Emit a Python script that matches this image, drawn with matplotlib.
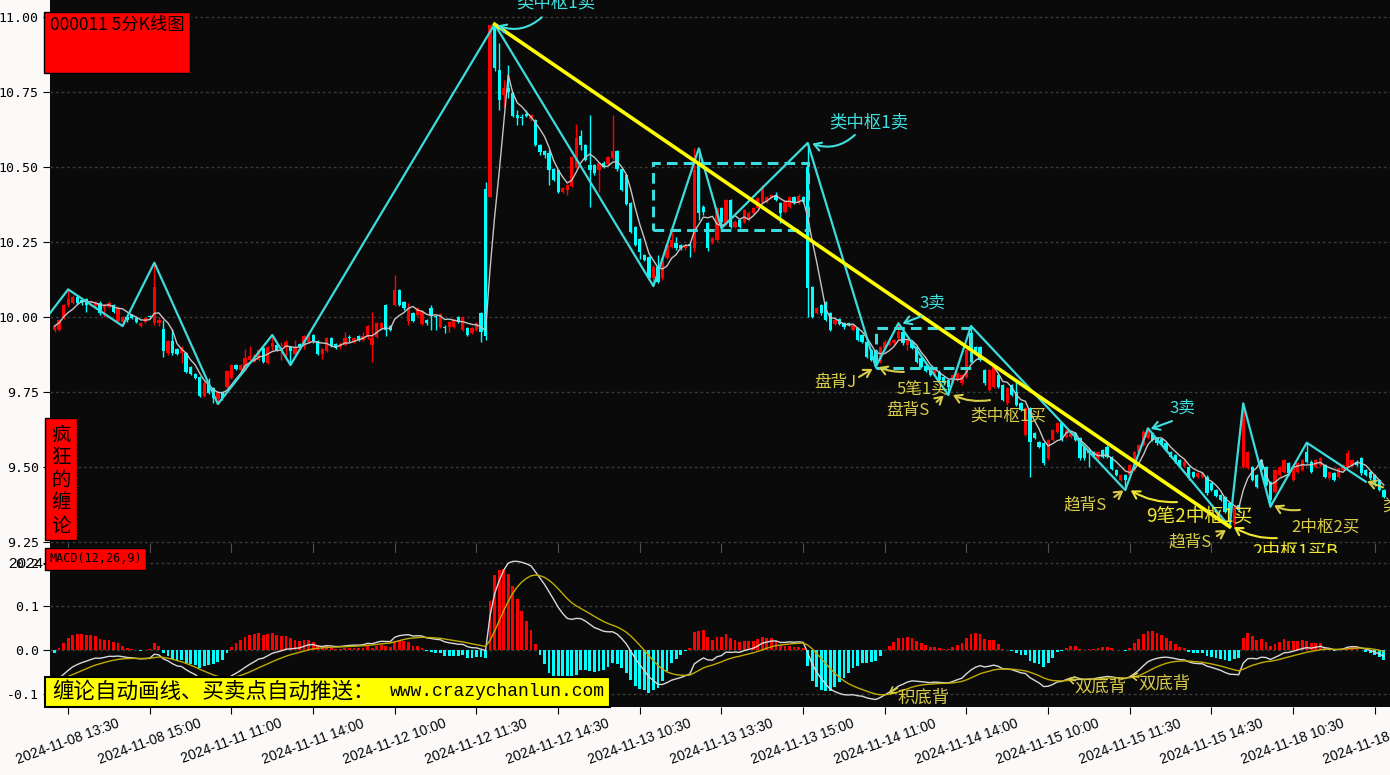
import numpy as np
import matplotlib
matplotlib.use('Agg')
import matplotlib.pyplot as plt
from matplotlib.patches import Rectangle

plt.rcParams['font.family'] = ['DejaVu Sans']
CJK = ['Noto Sans CJK SC', 'DejaVu Sans']

# ---------------- data ----------------
title_text = '000011 5分K线图'
side_text = '疯狂的缠论'
macd_title = 'MACD(12,26,9)'
watermark_cn = '缠论自动画线、买卖点自动推送：'
watermark_url = 'www.crazychanlun.com'

tick_bars = [3, 21, 39, 57, 75, 93, 111, 129, 147, 165, 183, 201, 219, 237, 255, 273, 291]
tick_labels = ['2024-11-08 13:30', '2024-11-08 15:00', '2024-11-11 11:00', '2024-11-11 14:00',
               '2024-11-12 10:00', '2024-11-12 11:30', '2024-11-12 14:30', '2024-11-13 10:30',
               '2024-11-13 13:30', '2024-11-13 15:00', '2024-11-14 11:00', '2024-11-14 14:00',
               '2024-11-15 10:00', '2024-11-15 11:30', '2024-11-15 14:30', '2024-11-18 10:30',
               '2024-11-18 13:30']
price_ticks = [9.25, 9.50, 9.75, 10.00, 10.25, 10.50, 10.75, 11.00]
macd_ticks = [-0.1, 0.0, 0.1, 0.2]

opens = [9.957, 9.957, 10.001, 10.040, 10.048, 10.068, 10.057, 10.060, 10.050, 10.037,
         10.048, 10.029, 10.034, 10.040, 9.988, 9.984, 10.001, 10.007, 9.996, 9.970,
         9.984, 10.002, 9.979, 9.979, 9.960, 9.879, 9.921, 9.892, 9.881, 9.881,
         9.832, 9.810, 9.801, 9.738, 9.779, 9.762, 9.726, 9.751, 9.766, 9.796,
         9.840, 9.823, 9.823, 9.857, 9.854, 9.857, 9.896, 9.848, 9.899, 9.907,
         9.890, 9.901, 9.899, 9.877, 9.910, 9.899, 9.918, 9.940, 9.921, 9.877,
         9.888, 9.929, 9.910, 9.899, 9.907, 9.931, 9.918, 9.937, 9.923, 9.932,
         9.907, 9.934, 9.962, 10.040, 9.970, 10.040, 10.090, 10.051, 9.988, 10.012,
         10.007, 9.977, 9.990, 10.029, 10.002, 9.968, 9.965, 9.968, 9.968, 10.001,
         9.957, 9.962, 9.946, 9.957, 10.012, 10.428, 10.401, 10.973, 10.823, 10.740,
         10.762, 10.746, 10.673, 10.666, 10.675, 10.659, 10.657, 10.573, 10.554, 10.546,
         10.492, 10.490, 10.418, 10.423, 10.437, 10.501, 10.603, 10.573, 10.507, 10.507,
         10.490, 10.512, 10.510, 10.529, 10.554, 10.492, 10.473, 10.379, 10.301, 10.259,
         10.207, 10.201, 10.129, 10.168, 10.129, 10.196, 10.234, 10.246, 10.240, 10.229,
         10.241, 10.230, 10.518, 10.368, 10.312, 10.246, 10.257, 10.362, 10.312, 10.390,
         10.301, 10.323, 10.318, 10.323, 10.346, 10.362, 10.385, 10.385, 10.396, 10.407,
         10.379, 10.351, 10.368, 10.399, 10.381, 10.399, 10.501, 10.101, 10.014, 10.040,
         10.051, 10.012, 9.977, 9.992, 9.979, 9.978, 9.957, 9.962, 9.940, 9.918,
         9.890, 9.890, 9.851, 9.896, 9.907, 9.912, 9.929, 9.951, 9.907, 9.918,
         9.901, 9.862, 9.837, 9.834, 9.807, 9.818, 9.801, 9.790, 9.785, 9.790,
         9.779, 9.801, 9.946, 9.901, 9.901, 9.823, 9.757, 9.768, 9.807, 9.773,
         9.712, 9.773, 9.751, 9.712, 9.607, 9.696, 9.612, 9.584, 9.579, 9.529,
         9.590, 9.618, 9.646, 9.601, 9.601, 9.612, 9.596, 9.568, 9.557, 9.551,
         9.529, 9.557, 9.568, 9.532, 9.490, 9.457, 9.473, 9.473, 9.490, 9.551,
         9.573, 9.596, 9.612, 9.596, 9.592, 9.579, 9.551, 9.540, 9.523, 9.503,
         9.501, 9.484, 9.468, 9.466, 9.468, 9.446, 9.423, 9.407, 9.401, 9.379,
         9.312, 9.373, 9.501, 9.496, 9.501, 9.473, 9.523, 9.501, 9.451, 9.418,
         9.473, 9.484, 9.512, 9.457, 9.484, 9.490, 9.551, 9.518, 9.501, 9.507,
         9.507, 9.462, 9.479, 9.468, 9.490, 9.501, 9.507, 9.518, 9.529, 9.490,
         9.484, 9.473, 9.457, 9.423]
highs = [9.975, 9.995, 10.045, 10.092, 10.072, 10.072, 10.062, 10.064, 10.058, 10.055,
         10.052, 10.044, 10.053, 10.044, 10.033, 10.005, 10.004, 10.010, 10.000, 9.985,
         10.000, 10.007, 10.181, 10.000, 9.990, 9.925, 9.960, 9.896, 9.905, 9.885,
         9.836, 9.814, 9.805, 9.785, 9.796, 9.766, 9.755, 9.755, 9.825, 9.845,
         9.844, 9.844, 9.892, 9.905, 9.877, 9.894, 9.900, 9.903, 9.940, 9.912,
         9.918, 9.923, 9.903, 9.923, 9.914, 9.940, 9.947, 9.944, 9.925, 9.896,
         9.933, 9.933, 9.914, 9.918, 9.951, 9.940, 9.933, 9.940, 9.951, 9.974,
         10.018, 9.985, 9.985, 10.044, 9.975, 10.140, 10.094, 10.055, 10.046, 10.016,
         10.033, 10.025, 9.994, 10.040, 10.006, 10.014, 9.974, 9.988, 9.994, 10.005,
         10.005, 9.966, 9.966, 9.985, 10.016, 10.450, 10.975, 10.976, 10.912, 10.790,
         10.840, 10.750, 10.690, 10.678, 10.690, 10.677, 10.661, 10.577, 10.558, 10.557,
         10.496, 10.494, 10.433, 10.444, 10.538, 10.645, 10.623, 10.577, 10.673, 10.511,
         10.516, 10.520, 10.538, 10.673, 10.558, 10.496, 10.477, 10.383, 10.305, 10.263,
         10.211, 10.205, 10.172, 10.207, 10.200, 10.244, 10.284, 10.268, 10.244, 10.244,
         10.245, 10.562, 10.562, 10.372, 10.316, 10.266, 10.366, 10.366, 10.394, 10.394,
         10.322, 10.327, 10.361, 10.352, 10.366, 10.400, 10.440, 10.403, 10.411, 10.418,
         10.383, 10.389, 10.405, 10.403, 10.411, 10.403, 10.580, 10.105, 10.033, 10.044,
         10.055, 10.016, 9.994, 9.996, 9.983, 9.985, 9.977, 9.966, 9.944, 9.922,
         9.894, 9.894, 9.905, 9.922, 9.922, 9.927, 9.979, 9.955, 9.927, 9.922,
         9.905, 9.866, 9.841, 9.838, 9.827, 9.822, 9.805, 9.794, 9.811, 9.816,
         9.811, 9.894, 9.970, 9.905, 9.905, 9.827, 9.827, 9.838, 9.811, 9.777,
         9.766, 9.777, 9.790, 9.716, 9.700, 9.700, 9.616, 9.588, 9.583, 9.594,
         9.627, 9.650, 9.650, 9.627, 9.622, 9.616, 9.600, 9.572, 9.561, 9.555,
         9.555, 9.561, 9.572, 9.536, 9.494, 9.477, 9.477, 9.511, 9.555, 9.577,
         9.622, 9.629, 9.616, 9.600, 9.596, 9.583, 9.555, 9.544, 9.527, 9.522,
         9.505, 9.488, 9.483, 9.483, 9.472, 9.450, 9.427, 9.411, 9.405, 9.383,
         9.372, 9.377, 9.712, 9.555, 9.505, 9.477, 9.527, 9.505, 9.455, 9.494,
         9.505, 9.527, 9.516, 9.505, 9.516, 9.527, 9.581, 9.522, 9.527, 9.533,
         9.511, 9.488, 9.483, 9.500, 9.511, 9.557, 9.527, 9.522, 9.533, 9.494,
         9.488, 9.477, 9.461, 9.427]
lows = [9.950, 9.955, 9.995, 10.035, 10.044, 10.042, 10.040, 10.018, 10.046, 10.033,
        10.008, 10.001, 10.030, 10.014, 9.984, 9.970, 9.985, 9.992, 9.980, 9.966,
        9.980, 9.996, 9.975, 9.970, 9.868, 9.875, 9.875, 9.873, 9.848, 9.815,
        9.806, 9.792, 9.734, 9.734, 9.742, 9.712, 9.710, 9.725, 9.762, 9.792,
        9.823, 9.819, 9.819, 9.853, 9.850, 9.853, 9.847, 9.844, 9.890, 9.886,
        9.857, 9.857, 9.840, 9.873, 9.895, 9.895, 9.914, 9.914, 9.873, 9.859,
        9.884, 9.899, 9.892, 9.895, 9.903, 9.918, 9.914, 9.919, 9.919, 9.928,
        9.851, 9.930, 9.958, 9.937, 9.953, 10.036, 10.036, 10.025, 9.973, 9.984,
        10.003, 9.973, 9.975, 9.957, 9.957, 9.964, 9.948, 9.951, 9.964, 9.980,
        9.953, 9.936, 9.942, 9.953, 9.918, 9.925, 10.399, 10.820, 10.690, 10.701,
        10.729, 10.666, 10.640, 10.640, 10.666, 10.655, 10.569, 10.540, 10.530, 10.440,
        10.453, 10.414, 10.414, 10.406, 10.433, 10.497, 10.557, 10.519, 10.368, 10.475,
        10.418, 10.497, 10.506, 10.525, 10.488, 10.419, 10.373, 10.280, 10.236, 10.195,
        10.186, 10.125, 10.103, 10.114, 10.125, 10.192, 10.230, 10.225, 10.225, 10.225,
        10.201, 10.218, 10.323, 10.340, 10.220, 10.242, 10.253, 10.296, 10.308, 10.297,
        10.297, 10.297, 10.314, 10.319, 10.342, 10.358, 10.381, 10.381, 10.392, 10.386,
        10.312, 10.347, 10.364, 10.377, 10.377, 10.381, 10.001, 9.997, 10.010, 10.008,
        9.986, 9.953, 9.973, 9.973, 9.960, 9.970, 9.953, 9.919, 9.914, 9.864,
        9.853, 9.834, 9.847, 9.892, 9.903, 9.908, 9.925, 9.908, 9.890, 9.892,
        9.847, 9.830, 9.817, 9.803, 9.803, 9.786, 9.775, 9.740, 9.781, 9.786,
        9.775, 9.797, 9.886, 9.875, 9.853, 9.775, 9.753, 9.764, 9.764, 9.719,
        9.708, 9.736, 9.703, 9.686, 9.603, 9.468, 9.592, 9.564, 9.508, 9.525,
        9.586, 9.614, 9.586, 9.597, 9.597, 9.586, 9.525, 9.525, 9.501, 9.530,
        9.525, 9.530, 9.530, 9.491, 9.471, 9.453, 9.423, 9.469, 9.486, 9.547,
        9.569, 9.592, 9.586, 9.575, 9.569, 9.553, 9.530, 9.514, 9.503, 9.499,
        9.458, 9.464, 9.464, 9.462, 9.408, 9.419, 9.399, 9.386, 9.347, 9.301,
        9.305, 9.353, 9.497, 9.492, 9.453, 9.430, 9.486, 9.436, 9.368, 9.414,
        9.469, 9.480, 9.475, 9.453, 9.480, 9.486, 9.514, 9.480, 9.497, 9.503,
        9.464, 9.458, 9.453, 9.464, 9.486, 9.497, 9.503, 9.503, 9.475, 9.469,
        9.458, 9.436, 9.419, 9.397]
closes = [9.970, 9.990, 10.040, 10.060, 10.068, 10.046, 10.046, 10.040, 10.052, 10.051,
          10.012, 10.040, 10.048, 10.018, 10.029, 10.001, 9.990, 9.996, 9.984, 9.981,
          9.996, 10.000, 10.101, 9.990, 9.888, 9.921, 9.879, 9.877, 9.901, 9.818,
          9.810, 9.796, 9.738, 9.781, 9.746, 9.729, 9.751, 9.729, 9.821, 9.840,
          9.827, 9.840, 9.862, 9.870, 9.873, 9.890, 9.851, 9.899, 9.912, 9.890,
          9.897, 9.918, 9.888, 9.899, 9.899, 9.937, 9.943, 9.918, 9.877, 9.892,
          9.929, 9.903, 9.896, 9.910, 9.929, 9.929, 9.929, 9.923, 9.937, 9.970,
          9.929, 9.981, 9.981, 9.957, 9.957, 10.090, 10.040, 10.029, 10.029, 9.988,
          10.029, 10.021, 9.979, 10.007, 10.001, 10.010, 9.962, 9.984, 9.990, 9.984,
          10.001, 9.940, 9.962, 9.981, 9.951, 9.937, 10.973, 10.829, 10.723, 10.762,
          10.751, 10.670, 10.662, 10.662, 10.670, 10.673, 10.573, 10.551, 10.540, 10.490,
          10.457, 10.418, 10.429, 10.440, 10.534, 10.595, 10.573, 10.523, 10.490, 10.479,
          10.512, 10.501, 10.534, 10.554, 10.492, 10.423, 10.377, 10.284, 10.240, 10.218,
          10.190, 10.129, 10.168, 10.118, 10.196, 10.240, 10.257, 10.229, 10.229, 10.240,
          10.238, 10.490, 10.346, 10.351, 10.229, 10.262, 10.362, 10.318, 10.390, 10.301,
          10.318, 10.301, 10.357, 10.348, 10.362, 10.396, 10.429, 10.399, 10.407, 10.390,
          10.346, 10.385, 10.401, 10.381, 10.403, 10.385, 10.096, 10.001, 10.029, 10.012,
          9.990, 9.957, 9.990, 9.977, 9.968, 9.975, 9.973, 9.923, 9.918, 9.868,
          9.857, 9.846, 9.901, 9.918, 9.918, 9.923, 9.951, 9.912, 9.923, 9.896,
          9.851, 9.834, 9.821, 9.807, 9.823, 9.790, 9.779, 9.768, 9.807, 9.812,
          9.807, 9.890, 9.890, 9.879, 9.857, 9.779, 9.823, 9.834, 9.768, 9.723,
          9.762, 9.740, 9.707, 9.690, 9.696, 9.584, 9.596, 9.568, 9.512, 9.590,
          9.623, 9.646, 9.590, 9.623, 9.618, 9.590, 9.529, 9.529, 9.546, 9.534,
          9.551, 9.534, 9.534, 9.495, 9.475, 9.473, 9.457, 9.507, 9.551, 9.573,
          9.618, 9.625, 9.590, 9.579, 9.573, 9.557, 9.534, 9.518, 9.507, 9.518,
          9.462, 9.468, 9.479, 9.479, 9.412, 9.423, 9.403, 9.390, 9.351, 9.346,
          9.368, 9.357, 9.690, 9.551, 9.457, 9.434, 9.490, 9.440, 9.390, 9.490,
          9.501, 9.523, 9.479, 9.501, 9.512, 9.523, 9.518, 9.484, 9.523, 9.529,
          9.468, 9.484, 9.457, 9.496, 9.507, 9.546, 9.523, 9.507, 9.479, 9.473,
          9.462, 9.440, 9.423, 9.401]

# strokes (bi) vertices: bar index, price
bi_bars = [-1, 3, 15, 22, 36, 48, 52, 97, 132, 142, 147, 166, 181, 186, 197, 202,
           236, 241, 259, 262, 268, 276, 289]
bi_prices = [10.013, 10.092, 9.970, 10.181, 9.710, 9.940, 9.840, 10.976, 10.103, 10.562,
             10.296, 10.580, 9.834, 9.979, 9.740, 9.970, 9.423, 9.629, 9.301, 9.712,
             9.368, 9.581, 9.451]
# segment (yellow)
seg_bars = [97, 259]
seg_prices = [10.976, 9.301]
# pivot boxes
zs_left = [132, 181]
zs_right = [166, 202]
zs_low = [10.289, 9.829]
zs_high = [10.512, 9.962]

# indicator state before the first visible bar
ema12_seed = 9.995
ema26_seed = 10.068
dea_seed = -0.066

# ---------------- colours ----------------
BG = '#0a0a0a'
FIG_BG = '#fcf9f9'
RED = '#ff0000'
CYAN = '#00ffff'
BI = '#3cdcdc'
YEL = '#ffff00'
ANN_Y = '#d8cc48'
ANN_Y2 = '#f0e830'
ANN_C = '#40e0e0'

W, H = 1390, 775


def frac(x0, y0, x1, y1):
    return [x0 / W, 1 - y1 / H, (x1 - x0) / W, (y1 - y0) / H]


fig = plt.figure(figsize=(W / 100, H / 100), dpi=100, facecolor=FIG_BG)
ax = fig.add_axes(frac(50, 0, 1390, 553))
axm = fig.add_axes(frac(50, 553, 1390, 707))

O = np.array(opens); Hh = np.array(highs); L = np.array(lows); C = np.array(closes)
n = len(C)
x = np.arange(n)

# ---------------- main panel ----------------
ax.set_facecolor(BG)
ax.set_xlim(-1, 294.35)
ax.set_ylim(11 - (553 - 17) / 300, 11 + 17 / 300)
for v in price_ticks:
    ax.axhline(v, color='#3a3a3a', lw=1, ls=(0, (2, 2)), zorder=0.5)

col = np.where(C > O, RED, CYAN)
ax.vlines(x, L, Hh, colors=col, linewidth=1, zorder=2)
bot = np.minimum(O, C)
hgt = np.maximum(np.abs(C - O), 0.004)
ax.bar(x, hgt, bottom=bot, width=0.72, color=col, linewidth=0, zorder=3)

ma = np.array([C[max(0, k - 4):k + 1].mean() for k in range(n)])
ax.plot(x, ma, color='#c4c4c4', lw=1, zorder=4)

ax.plot(bi_bars, bi_prices, color=BI, lw=1.6, zorder=5)
ax.plot(seg_bars, seg_prices, color=YEL, lw=2.6, zorder=6)
for l, r, lo, hi in zip(zs_left, zs_right, zs_low, zs_high):
    ax.add_patch(Rectangle((l, lo), r - l, hi - lo, fill=False, edgecolor=BI,
                           lw=2.2, ls=(0, (3.5, 2)), zorder=5))

ax.set_yticks(price_ticks)
ax.set_yticklabels(['%.2f' % v for v in price_ticks], family='DejaVu Sans Mono', fontsize=9.5)
ax.set_xticks(tick_bars)
# only the first date label of the price panel peeks out left of the MACD panel
ax.set_xticklabels([tick_labels[0]] + [''] * (len(tick_labels) - 1), rotation=0,
                   fontsize=11, family='Liberation Sans')
ax.tick_params(axis='y', direction='out', length=5, color='black', pad=3)
ax.tick_params(axis='x', direction='in', length=7, color='#505050', pad=3)
for s in ax.spines.values():
    s.set_visible(False)

annotations = [
    ('类中枢1卖', 110.5, 11.047, ANN_C, 12.5, (107.4, 10.999), (97.6, 10.972), -0.3),
    ('类中枢1卖', 179.5, 10.650, ANN_C, 12.5, (176.4, 10.607), (167.0, 10.578), -0.3),
    ('3卖', 193.4, 10.047, ANN_C, 12, (191.1, 10.003), (186.9, 9.978), 0.0),
    ('盘背J', 172.2, 9.783, ANN_Y, 12, (177.3, 9.800), (180.3, 9.827), 0.0),
    ('5笔1买', 191.2, 9.757, ANN_Y, 12, (187.2, 9.817), (181.6, 9.833), -0.1),
    ('盘背S', 188.1, 9.690, ANN_Y, 12, (194.4, 9.717), (196.0, 9.738), 0.0),
    ('类中枢1买', 210.2, 9.670, ANN_Y, 12, (206.2, 9.723), (198.0, 9.740), -0.15),
    ('3卖', 248.5, 9.697, ANN_C, 12, (246.3, 9.653), (241.6, 9.627), 0.0),
    ('趋背S', 227.1, 9.373, ANN_Y, 12, (233.6, 9.400), (235.6, 9.422), 0.0),
    ('9笔2中枢1买', 252.3, 9.333, ANN_Y2, 13.5, (247.4, 9.383), (237.2, 9.422), -0.15),
    ('趋背S', 250.3, 9.250, ANN_Y, 12, (256.2, 9.270), (258.2, 9.290), 0.0),
    ('2中枢1买B', 273.4, 9.217, ANN_Y2, 13, (269.4, 9.263), (259.9, 9.300), -0.15),
    ('2中枢2买', 280.2, 9.300, ANN_Y, 12, (274.5, 9.357), (268.8, 9.372), -0.15),
]
for txt, tx, ty, c, fs, a0, a1, rad in annotations:
    ax.text(tx, ty, txt, color=c, fontsize=fs, family=CJK, ha='center', va='center',
            zorder=8, clip_on=False)
    ax.annotate('', xy=a1, xytext=a0, annotation_clip=False, zorder=8,
                arrowprops=dict(arrowstyle='->,head_length=0.5,head_width=0.3', color=c,
                                lw=1.5, shrinkA=0, shrinkB=0,
                                connectionstyle='arc3,rad=%s' % rad))
# label at the right border (mostly outside the picture)
ax.text(292.7, 9.37, '类2买', color=ANN_Y, fontsize=12, family=CJK, ha='left', va='center',
        zorder=8, clip_on=False)
ax.annotate('', xy=(289.3, 9.452), xytext=(292.8, 9.432), annotation_clip=False, zorder=8,
            arrowprops=dict(arrowstyle='->,head_length=0.5,head_width=0.3', color=ANN_Y,
                            lw=1.5, shrinkA=0, shrinkB=0))

# ---------------- MACD panel ----------------
def ema(vals, span, seed):
    a = 2.0 / (span + 1)
    out = np.empty(len(vals))
    prev = seed
    for k, v in enumerate(vals):
        prev = prev + a * (v - prev)
        out[k] = prev
    return out

dif = ema(C, 12, ema12_seed) - ema(C, 26, ema26_seed)
dea = ema(dif, 9, dea_seed)
hist = 2 * (dif - dea)

axm.set_facecolor(BG)
axm.set_xlim(-1, 294.35)
axm.set_ylim(-(707 - 650) / 436, 0.2 + (562.8 - 553) / 436)
for v in macd_ticks:
    axm.axhline(v, color='#3a3a3a', lw=1, ls=(0, (2, 2)), zorder=0.5)
axm.bar(x, hist, width=0.62, color=np.where(hist >= 0, RED, CYAN), linewidth=0, zorder=2)
axm.plot(x, dif, color='#d8d8d8', lw=1, zorder=3)
axm.plot(x, dea, color='#c0ac00', lw=1, zorder=3)
axm.set_yticks(macd_ticks)
axm.set_yticklabels(['%.1f' % v for v in macd_ticks], family='DejaVu Sans Mono', fontsize=9.5)
axm.set_xticks(tick_bars)
axm.set_xticklabels(tick_labels, rotation=20, fontsize=10, family='Liberation Sans')
axm.tick_params(axis='y', direction='out', length=5, color='black', pad=3)
axm.tick_params(axis='x', direction='out', length=5, color='black', pad=2)
for s in axm.spines.values():
    s.set_visible(False)

macd_ann = [
    ('积底背', 191.6, -0.110, ANN_Y, 12.5, (185.8, -0.087), (183.8, -0.100)),
    ('双底背', 230.6, -0.085, ANN_Y, 12.5, (225.0, -0.070), (223.2, -0.066)),
    ('双底背', 244.6, -0.076, ANN_Y, 12.5, (239.0, -0.062), (237.0, -0.059)),
]
for txt, tx, ty, c, fs, a0, a1 in macd_ann:
    axm.text(tx, ty, txt, color=c, fontsize=fs, family=CJK, ha='center', va='center', zorder=8)
    axm.annotate('', xy=a1, xytext=a0, zorder=8,
                 arrowprops=dict(arrowstyle='->,head_length=0.4,head_width=0.25', color=c,
                                 lw=1.2, shrinkA=0, shrinkB=0))

# ---------------- figure-level labels ----------------
def fx(px):
    return px / W


def fy(py):
    return 1 - py / H


fig.patches.append(Rectangle((fx(44), fy(73)), fx(190) - fx(44), fy(12) - fy(73),
                             transform=fig.transFigure, facecolor=RED, edgecolor='black',
                             lw=1, zorder=5))
fig.text(fx(50), fy(25), title_text, fontsize=12.5, family=CJK, color='black',
         ha='left', va='center', zorder=6)

fig.patches.append(Rectangle((fx(45), fy(540)), fx(77) - fx(45), fy(418) - fy(540),
                             transform=fig.transFigure, facecolor=RED, edgecolor='black',
                             lw=1, zorder=5))
for k, ch in enumerate(side_text):
    fig.text(fx(61), fy(435 + 22.7 * k), ch, fontsize=14, family=CJK, color='black',
             ha='center', va='center', zorder=6)

fig.patches.append(Rectangle((fx(45), fy(570)), fx(146) - fx(45), fy(548) - fy(570),
                             transform=fig.transFigure, facecolor=RED, edgecolor='black',
                             lw=1, zorder=5))
fig.text(fx(50), fy(559), macd_title, fontsize=8.5, family='DejaVu Sans Mono', color='black',
         ha='left', va='center', zorder=6)

fig.patches.append(Rectangle((fx(45), fy(707)), fx(610) - fx(45), fy(677) - fy(707),
                             transform=fig.transFigure, facecolor='#ffff00', edgecolor='black',
                             lw=1.5, zorder=5))
fig.text(fx(52), fy(692), watermark_cn, fontsize=15.5, family=CJK, color='black',
         ha='left', va='center', zorder=6)
fig.text(fx(605), fy(692), watermark_url, fontsize=13, family='Liberation Mono', color='black',
         ha='right', va='center', zorder=6)

fig.savefig('out.png', dpi=100, facecolor=FIG_BG)
